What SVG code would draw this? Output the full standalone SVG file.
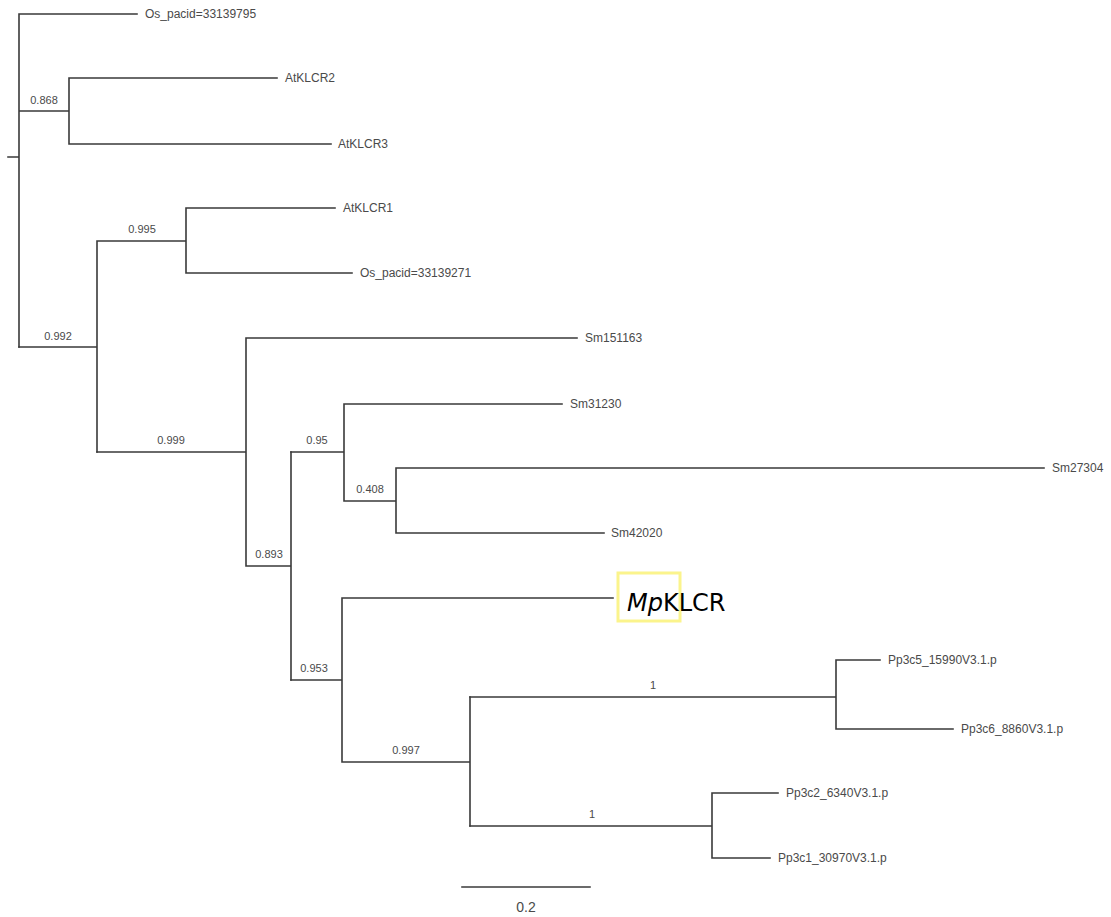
<svg xmlns="http://www.w3.org/2000/svg" width="1111" height="917" viewBox="0 0 1111 917">
<style>
.br{fill:none;stroke:#3a3a3a;stroke-width:1.6;stroke-linecap:square}
.lf{font-family:"Liberation Sans",Arial,sans-serif;font-size:12px;fill:#4a4a4a}
.bs{font-family:"Liberation Sans",Arial,sans-serif;font-size:11px;fill:#4a4a4a;text-anchor:middle}
</style>
<rect width="1111" height="917" fill="#ffffff"/>
<g id="connectors">
<path class="br" d="M8,157H19M19,14V347M19,14H137M19,111H69M69,78V144M69,78H277M69,144H331"/>
<path class="br" d="M19,347H97M97,241V452M97,241H186M186,208V273M186,208H335M186,273H352"/>
<path class="br" d="M97,452H246M246,338V566M246,338H577M246,566H291M291,452V680"/>
<path class="br" d="M291,452H344M344,404V501M344,404H562M344,501H396M396,468V533M396,468H1044M396,533H604"/>
<path class="br" d="M291,680H342M342,598V762M342,598H613M342,762H470M470,697V826"/>
<path class="br" d="M470,697H836M836,660V729M836,660H880M836,729H953"/>
<path class="br" d="M470,826H712M712,793V858M712,793H778M712,858H770"/>
</g>
<g id="bootstrap">
<text class="bs" x="44" y="104">0.868</text>
<text class="bs" x="142" y="233">0.995</text>
<text class="bs" x="58" y="340">0.992</text>
<text class="bs" x="171" y="444">0.999</text>
<text class="bs" x="317" y="444">0.95</text>
<text class="bs" x="370" y="493">0.408</text>
<text class="bs" x="269" y="558">0.893</text>
<text class="bs" x="314" y="672">0.953</text>
<text class="bs" x="406" y="754">0.997</text>
<text class="bs" x="653" y="689">1</text>
<text class="bs" x="592" y="818">1</text>
</g>
<g id="leaf-os1"><text class="lf" x="145" y="18">Os_pacid=33139795</text></g>
<g id="leaf-atklcr2"><text class="lf" x="285" y="82">AtKLCR2</text></g>
<g id="leaf-atklcr3"><text class="lf" x="338" y="148">AtKLCR3</text></g>
<g id="leaf-atklcr1"><text class="lf" x="343" y="212">AtKLCR1</text></g>
<g id="leaf-os2"><text class="lf" x="360" y="277">Os_pacid=33139271</text></g>
<g id="leaf-sm151163"><text class="lf" x="585" y="342">Sm151163</text></g>
<g id="leaf-sm31230"><text class="lf" x="570" y="408">Sm31230</text></g>
<g id="leaf-sm27304"><text class="lf" x="1052" y="472">Sm27304</text></g>
<g id="leaf-sm42020"><text class="lf" x="611" y="537">Sm42020</text></g>
<g id="leaf-mpklcr">
<rect x="618" y="573" width="62" height="48" fill="none" stroke="#fbf48c" stroke-width="3"/>
<text x="627" y="611" font-family="'DejaVu Sans',Verdana,sans-serif" font-size="24" fill="#000"><tspan font-style="italic">Mp</tspan>KLCR</text>
</g>
<g id="leaf-pp3c5"><text class="lf" x="888" y="664">Pp3c5_15990V3.1.p</text></g>
<g id="leaf-pp3c6"><text class="lf" x="961" y="733">Pp3c6_8860V3.1.p</text></g>
<g id="leaf-pp3c2"><text class="lf" x="786" y="797">Pp3c2_6340V3.1.p</text></g>
<g id="leaf-pp3c1"><text class="lf" x="778" y="862">Pp3c1_30970V3.1.p</text></g>
<g id="scale">
<path class="br" d="M462,887H590"/>
<text x="526" y="912" font-family="'Liberation Sans',Arial,sans-serif" font-size="14" fill="#4a4a4a" text-anchor="middle">0.2</text>
</g>
</svg>
